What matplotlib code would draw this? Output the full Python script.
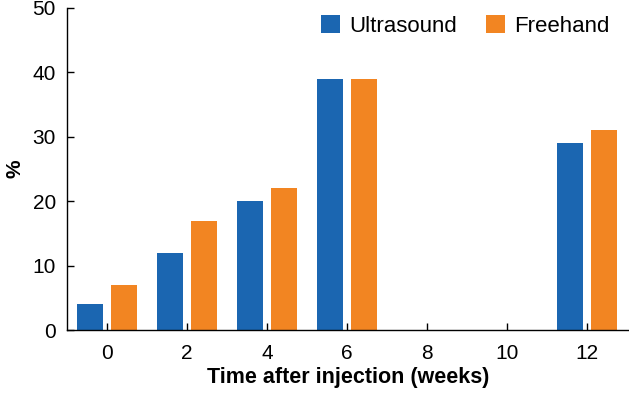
import numpy as np
import matplotlib.pyplot as plt

weeks = [0, 2, 4, 6, 8, 10, 12]
ultrasound = [4, 12, 20, 39, 0, 0, 29]
freehand = [7, 17, 22, 39, 0, 0, 31]

plt.rcParams['font.family'] = ['Liberation Sans', 'DejaVu Sans']

fig = plt.figure(figsize=(6.29, 3.94), dpi=100)
ax = fig.add_axes([0.1065, 0.162, 0.8935, 0.818])

x = np.array(weeks, dtype=float)
w = 0.65
ax.bar(x - 0.43, ultrasound, width=w, color='#1b66b1', label='Ultrasound')
ax.bar(x + 0.43, freehand, width=w, color='#f28522', label='Freehand')

ax.set_xlim(-1, 13.05)
ax.set_ylim(0, 50)
ax.set_xticks(weeks)
ax.set_yticks(range(0, 51, 10))
ax.tick_params(direction='in', length=5, width=1, labelsize=15)
ax.tick_params(axis='y', pad=8)
ax.tick_params(axis='x', pad=10)

for s in ['top', 'right']:
    ax.spines[s].set_visible(False)
for s in ['left', 'bottom']:
    ax.spines[s].set_linewidth(1)

ax.set_xlabel('Time after injection (weeks)', fontsize=15.5, fontweight='bold', labelpad=3)
ax.set_ylabel('%', fontsize=15, fontweight='bold')
ax.yaxis.set_label_coords(-0.076, 0.5)

ax.legend(loc='upper right', bbox_to_anchor=(1.0, 1.04), ncol=2, frameon=False,
          fontsize=16, handlelength=0.85, handleheight=0.85, columnspacing=1.3, handletextpad=0.4)

fig.savefig('out.png', dpi=100)
